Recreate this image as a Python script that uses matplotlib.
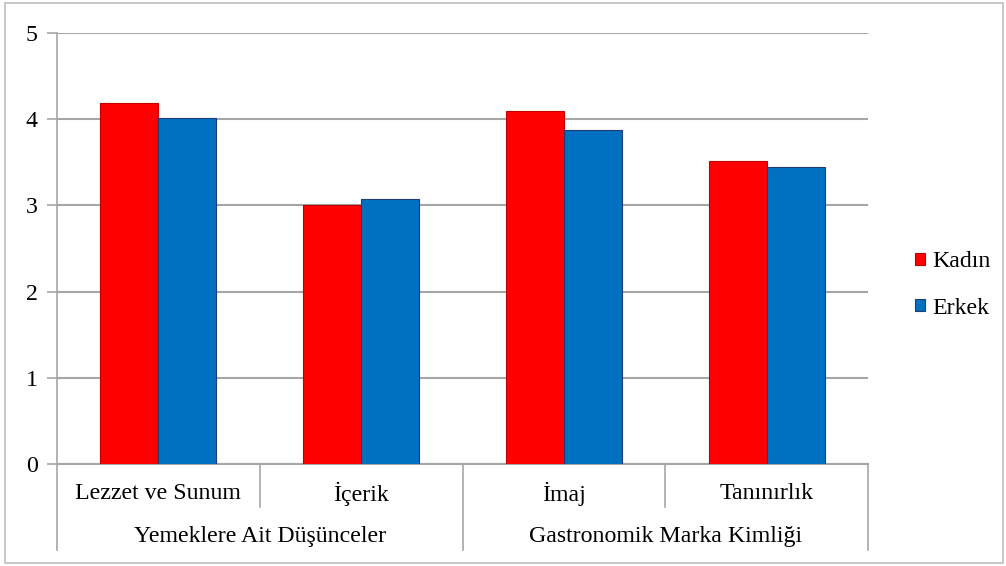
import matplotlib
matplotlib.use("Agg")
import matplotlib.pyplot as plt
from matplotlib.patches import Rectangle
from matplotlib.lines import Line2D
import numpy as np

# Data
subcategories = ["Lezzet ve Sunum", "İçerik", "İmaj", "Tanınırlık"]
groups = ["Yemeklere Ait Düşünceler", "Gastronomik Marka Kimliği"]
group_sizes = [2, 2]
kadin = [4.19, 3.00, 4.09, 3.51]
erkek = [4.01, 3.08, 3.87, 3.44]
series_names = ["Kadın", "Erkek"]
yticks = [0, 1, 2, 3, 4, 5]

plt.rcParams["font.family"] = ["Liberation Serif", "DejaVu Serif"]
FS = 17.2
GRID = "#a6a6a6"

fig = plt.figure(figsize=(10.06, 5.66), dpi=100)
ax = fig.add_axes([57 / 1006, 1 - 464 / 566, (868 - 57) / 1006, (464 - 33) / 566])

x = np.arange(len(subcategories))
w = 0.286
b1 = ax.bar(x - w / 2, kadin, w, color="#ff0000", edgecolor="#c00000", linewidth=0.8,
            label=series_names[0], zorder=3)
b2 = ax.bar(x + w / 2, erkek, w, color="#0070c0", edgecolor="#1f3c78", linewidth=0.8,
            label=series_names[1], zorder=3)

ax.set_xlim(-0.5, len(subcategories) - 0.5)
ax.set_ylim(0, 5)
ax.set_yticks(yticks)
ax.set_yticklabels([str(t) for t in yticks], fontsize=FS)
ax.yaxis.grid(True, color=GRID, linewidth=1.5, zorder=0)
ax.set_xticks([])
ax.tick_params(axis="y", length=7, width=1.2, color=GRID, pad=7)
for s in ["top", "right"]:
    ax.spines[s].set_visible(False)
ax.spines["left"].set_color(GRID)
ax.spines["left"].set_linewidth(1.2)
ax.spines["bottom"].set_color(GRID)
ax.spines["bottom"].set_linewidth(1.5)

# Two-level category axis
trans = ax.get_xaxis_transform()
y_lvl1 = -0.069
y_lvl2 = -0.169
y_short = -0.0998
y_long = -0.1995
for i, name in enumerate(subcategories):
    ax.text(i, y_lvl1, name, transform=trans, ha="center", va="center", fontsize=FS)
# short dividers between subcategories inside a group, long ones at group edges
edges = [-0.5]
start = 0
for gname, n in zip(groups, group_sizes):
    centre = start + (n - 1) / 2
    ax.text(centre, y_lvl2, gname, transform=trans, ha="center", va="center", fontsize=FS)
    for k in range(1, n):
        xe = start + k - 0.5
        ax.add_line(Line2D([xe, xe], [0, y_short], transform=trans, color=GRID,
                           linewidth=1.2, clip_on=False))
    start += n
    edges.append(start - 0.5)
for xe in edges:
    ax.add_line(Line2D([xe, xe], [0, y_long], transform=trans, color=GRID,
                       linewidth=1.2, clip_on=False))

# Legend
fig.legend(handles=[b1, b2], labels=series_names, loc="center left",
           bbox_to_anchor=(893 / 1006, 1 - 285 / 566), frameon=False, fontsize=FS,
           handlelength=0.45, handleheight=0.45, handletextpad=0.3, labelspacing=1.05)

# Chart border
fig.patches.append(Rectangle((5 / 1006, 3 / 566), (1003 - 5) / 1006, (563 - 3) / 566,
                             transform=fig.transFigure, fill=False,
                             edgecolor="#bfbfbf", linewidth=1.2))

fig.savefig("out.png", dpi=100)
